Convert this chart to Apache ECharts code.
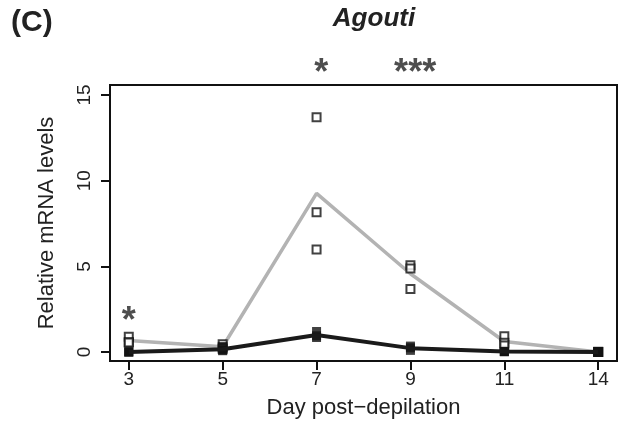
<!DOCTYPE html>
<html>
<head>
<meta charset="utf-8">
<script src="https://cdn.jsdelivr.net/npm/echarts@6/dist/echarts.min.js"></script>
<style>
  html, body { margin: 0; padding: 0; background: #fff; }
  #chart { width: 620px; height: 424px; }
</style>
</head>
<body>
<div id="chart"></div>
<script>
// days sampled after depilation (equally spaced on the axis)
const days = ["3", "5", "7", "9", "11", "14"];
// individual samples, one array per day
const hollowPts = [
  [0.9, 0.58, 0.56],
  [0.45, 0.28, 0.2],
  [13.7, 8.15, 5.98],
  [5.06, 4.88, 3.68],
  [0.92, 0.55, 0.39],
  [0.02, 0.0, 0.0],
];
const filledPts = [
  [0.0, 0.02, 0.0],
  [0.08, 0.12, 0.3],
  [1.2, 0.95, 0.85],
  [0.35, 0.25, 0.1],
  [0.02, 0.03, 0.04],
  [0.0, 0.0, 0.0],
];
// group means drawn as lines
const grayMean = [0.68, 0.31, 9.26, 4.57, 0.62, 0.0];
const blackMean = [0.0, 0.17, 1.0, 0.23, 0.03, 0.0];
// significance marks
const sigMarks = [
  { x: 0, y: 1.75, text: "*" },
  { x: 2.05, y: 16.2, text: "*" },
  { x: 3.05, y: 16.2, text: "***" },
];
const yTicks = [0, 5, 10, 15];
const xTicks = days.map((d, i) => i);

const chart = echarts.init(document.getElementById("chart"));
const font = "Liberation Sans, Arial, sans-serif";
const flat = (pts) => pts.flatMap((arr, i) => arr.map((v) => [i, v]));

chart.setOption({
  animation: false,
  textStyle: { fontFamily: font },
  title: [
    { text: "(C)", left: 6, top: 3, textStyle: { fontSize: 30, fontWeight: "bold", color: "#222", fontFamily: font } },
    { text: "Agouti", left: 369, top: 1, textAlign: "center", textStyle: { fontSize: 26, fontWeight: "bold", fontStyle: "italic", color: "#222", fontFamily: font } },
  ],
  grid: { left: 110, right: 3, top: 85, bottom: 61, show: true, borderColor: "#111", borderWidth: 2 },
  xAxis: {
    type: "value",
    min: -0.2,
    max: 5.2,
    name: "Day post\u2212depilation",
    nameLocation: "middle",
    nameGap: 36,
    nameTextStyle: { fontSize: 22, color: "#222", fontFamily: font },
    axisLine: { show: true, onZero: false, lineStyle: { color: "#111", width: 2 } },
    axisTick: { show: true, customValues: xTicks, length: 9, lineStyle: { color: "#111", width: 2 } },
    axisLabel: { customValues: xTicks, margin: 9, fontSize: 19, color: "#222", formatter: (v) => days[v] },
    splitLine: { show: false },
  },
  yAxis: {
    type: "value",
    min: -0.52,
    max: 15.58,
    name: "Relative mRNA levels",
    nameLocation: "middle",
    nameGap: 52,
    nameTextStyle: { fontSize: 22, color: "#222", fontFamily: font },
    axisLine: { show: true, onZero: false, lineStyle: { color: "#111", width: 2 } },
    axisTick: { show: true, customValues: yTicks, length: 9, lineStyle: { color: "#111", width: 2 } },
    axisLabel: { customValues: yTicks, margin: 16, rotate: 90, fontSize: 19, color: "#222" },
    splitLine: { show: false },
  },
  series: [
    {
      type: "line",
      data: grayMean.map((v, i) => [i, v]),
      symbol: "none",
      lineStyle: { color: "#b3b3b3", width: 3.5 },
      z: 2,
    },
    {
      type: "scatter",
      data: flat(hollowPts),
      symbol: "rect",
      symbolSize: 8,
      itemStyle: { color: "#fff", borderColor: "#111", borderWidth: 2 },
      z: 3,
    },
    {
      type: "scatter",
      data: flat(filledPts),
      symbol: "rect",
      symbolSize: 9,
      itemStyle: { color: "#111" },
      z: 4,
    },
    {
      type: "line",
      data: blackMean.map((v, i) => [i, v]),
      symbol: "none",
      lineStyle: { color: "#1a1a1a", width: 4 },
      z: 5,
    },
    {
      type: "scatter",
      clip: false,
      symbolSize: 0,
      data: sigMarks.map((m) => ({ value: [m.x, m.y], name: m.text })),
      label: {
        show: true,
        position: "inside",
        formatter: (p) => p.name,
        fontSize: 36,
        fontWeight: "bold",
        color: "#222",
        fontFamily: font,
      },
      z: 6,
    },
  ],
});
</script>
</body>
</html>
